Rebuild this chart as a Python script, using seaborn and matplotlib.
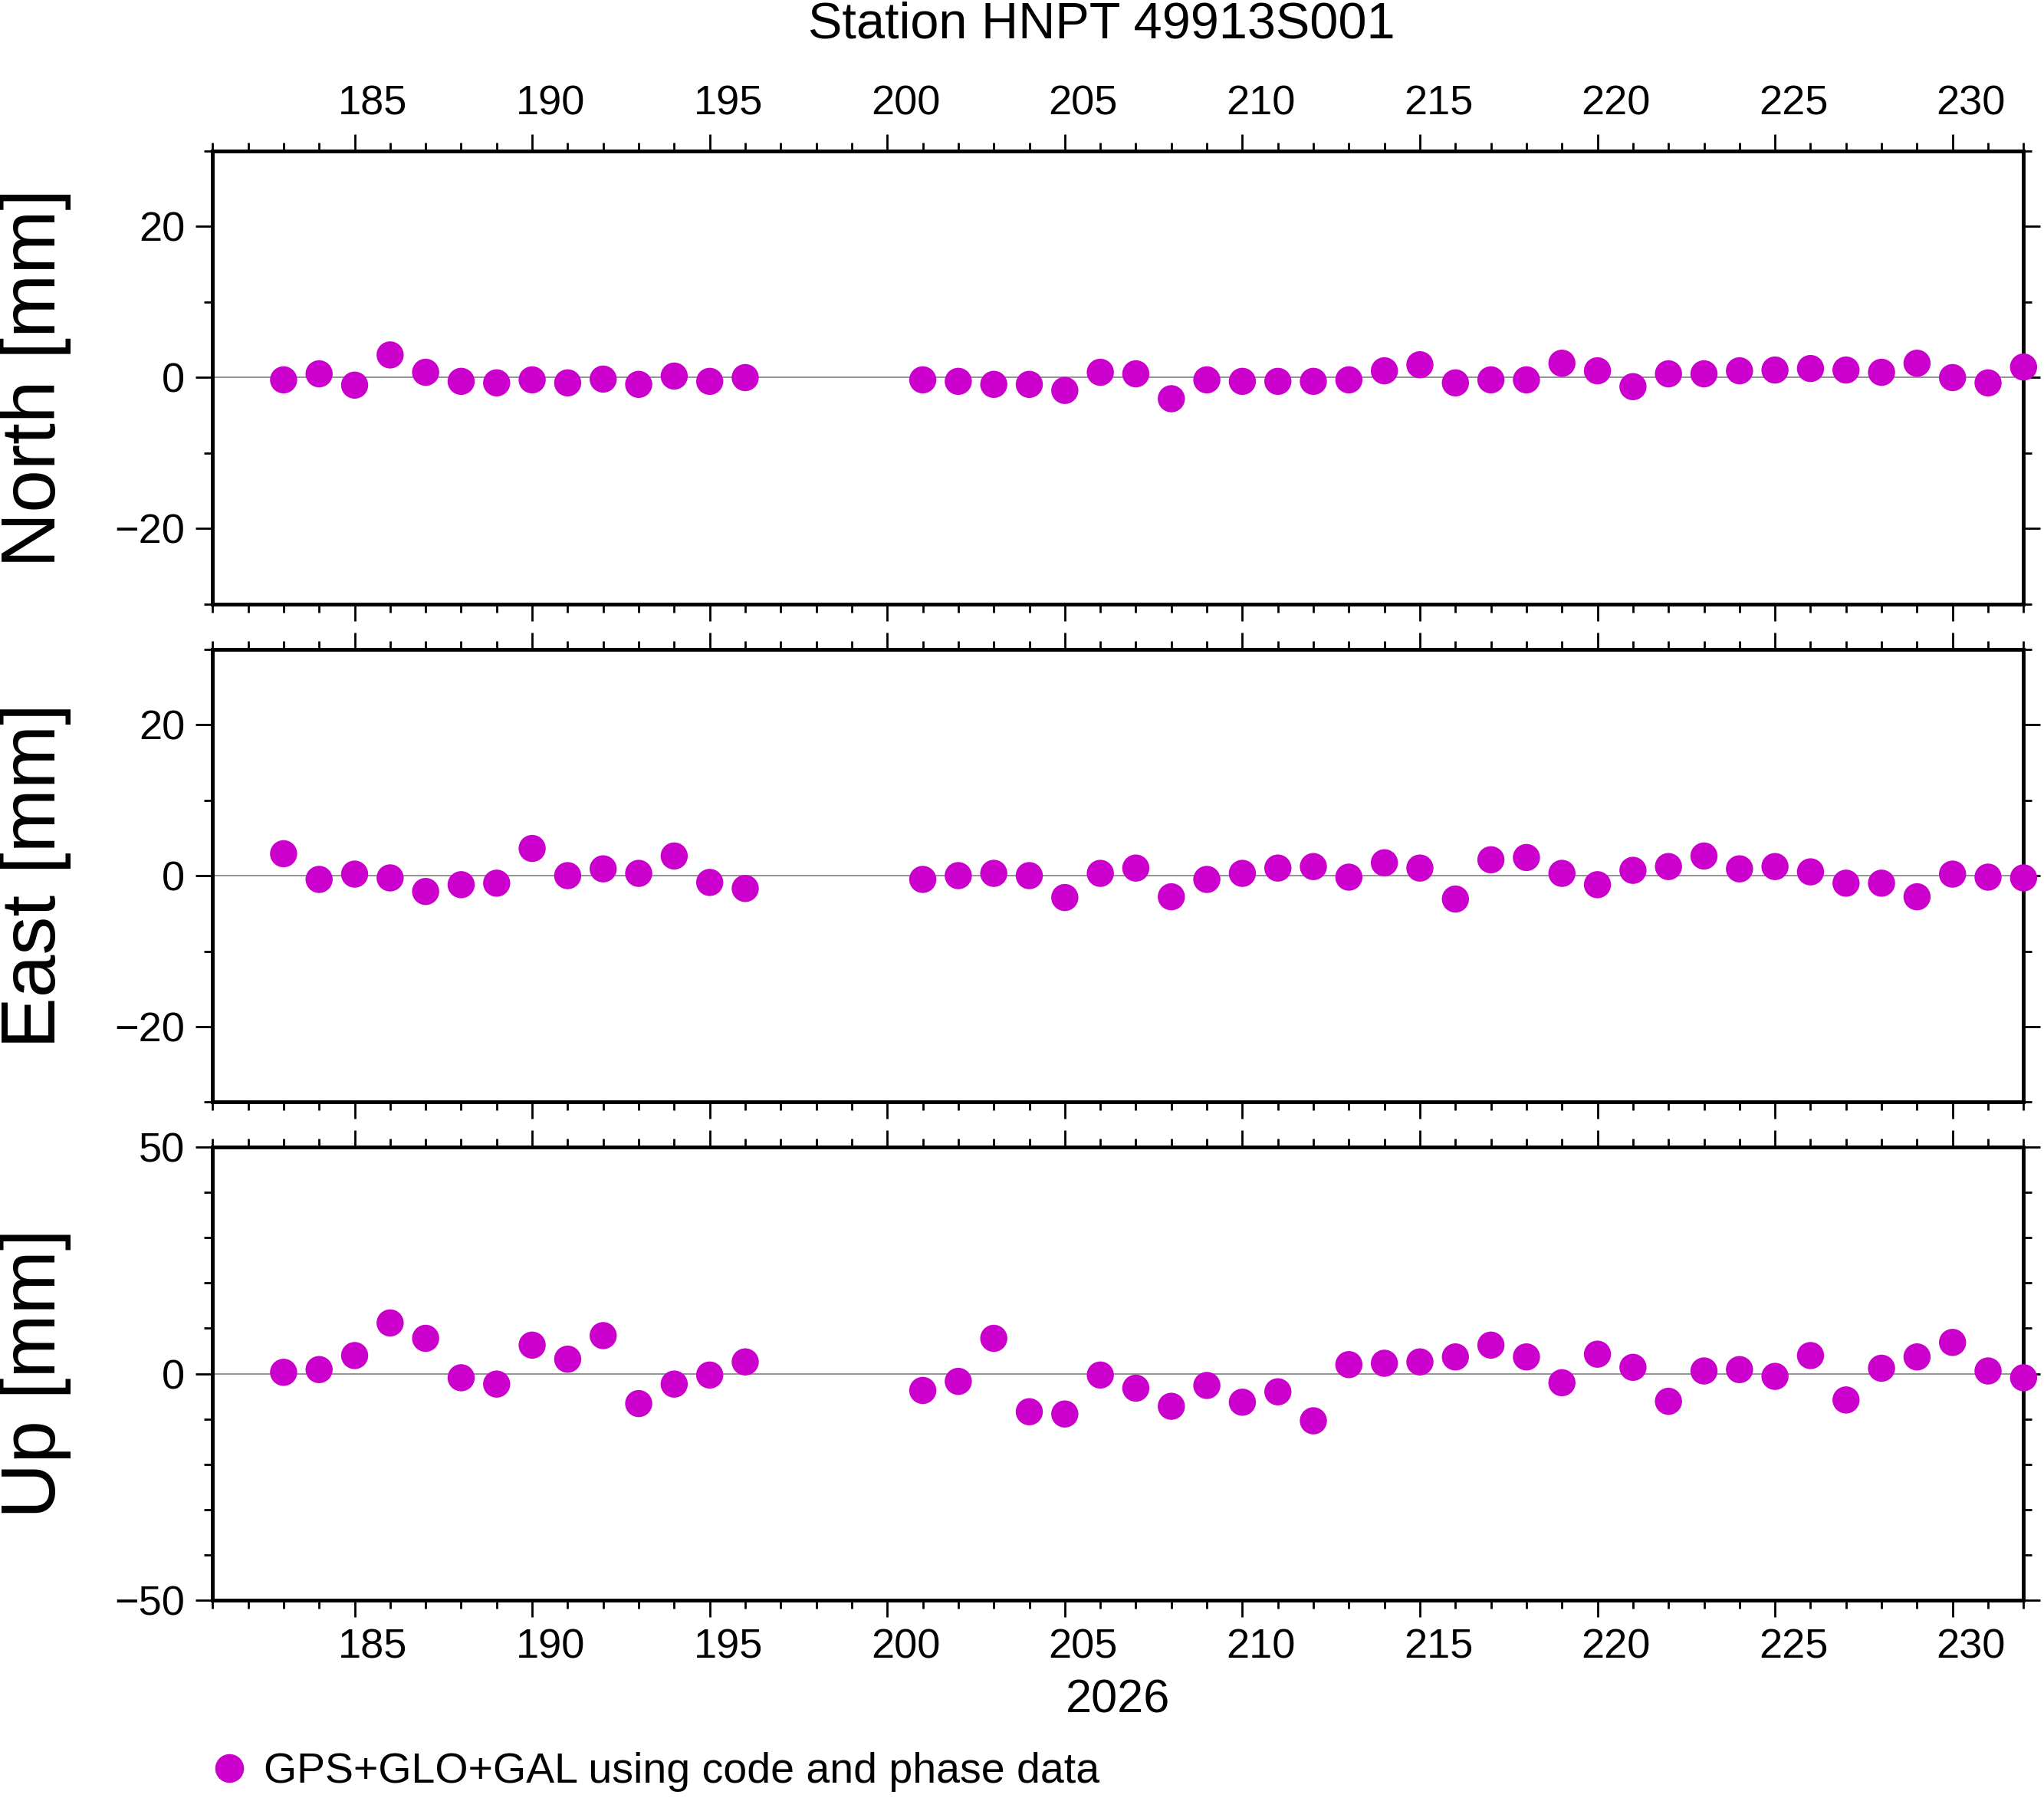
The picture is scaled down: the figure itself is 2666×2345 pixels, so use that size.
import numpy as np
import pandas as pd
import matplotlib
matplotlib.use("Agg")
import matplotlib.pyplot as plt
import seaborn as sns
from matplotlib.transforms import ScaledTranslation
from matplotlib.ticker import MultipleLocator

days = list(range(183, 197)) + list(range(201, 233))
north = [-0.3, 0.5, -1, 3, 0.7, -0.5, -0.7, -0.3, -0.7, -0.2, -0.9, 0.2, -0.5, 0,
         -0.3, -0.5, -0.9, -0.9, -1.7, 0.7, 0.5, -2.8, -0.3, -0.5, -0.5, -0.5, -0.3, 0.9, 1.7, -0.7,
         -0.3, -0.3, 1.9, 0.9, -1.2, 0.5, 0.5, 0.9, 1, 1.2, 1, 0.7, 1.9, 0, -0.7, 1.4]
east = [2.9, -0.5, 0.2, -0.3, -2.1, -1.2, -1, 3.6, 0, 0.9, 0.3, 2.6, -0.9, -1.7,
        -0.5, 0, 0.3, 0, -2.9, 0.3, 1, -2.8, -0.5, 0.3, 1, 1.2, -0.2, 1.7, 1, -3.1,
        2.1, 2.4, 0.3, -1.2, 0.7, 1.2, 2.6, 0.9, 1.2, 0.5, -1, -1, -2.8, 0.2, -0.2, -0.3]
up = [0.3, 0.9, 4, 11.2, 7.8, -0.9, -2.3, 6.3, 3.2, 8.4, -6.6, -2.3, -0.3, 2.6,
      -3.7, -1.7, 7.8, -8.4, -8.9, -0.3, -3.2, -7.2, -2.6, -6.3, -4, -10.4, 2, 2.3, 2.6, 3.7,
      6.3, 3.7, -2, 4.3, 1.4, -6.1, 0.6, 0.9, -0.6, 4, -5.8, 1.2, 3.7, 6.9, 0.6, -0.9]
panels = ["North [mm]", "East [mm]", "Up [mm]"]
limits = [(-30, 30, 20, 10), (-30, 30, 20, 10), (-50, 50, 50, 10)]
label = "GPS+GLO+GAL using code and phase data"

df = pd.DataFrame({"day": days, "North [mm]": north, "East [mm]": east, "Up [mm]": up})

sns.set_style("white")
plt.rcParams["font.family"] = ["Liberation Sans", "DejaVu Sans"]
plt.rcParams["text.color"] = "black"
plt.rcParams["axes.labelcolor"] = "black"

fig = plt.figure(figsize=(26.66, 23.45), dpi=100)
boxes = [(0.664, 0.916), (0.387, 0.639), (0.110, 0.362)]
for i, (name, (lo, hi, maj, mnr), (b, t)) in enumerate(zip(panels, limits, boxes)):
    ax = fig.add_axes([0.104, b, 0.886, t - b])
    ax.axhline(0, color="gray", lw=1.2, zorder=1)
    sns.scatterplot(data=df, x="day", y=name, ax=ax, color="#cc00cc", s=650,
                    edgecolor="none", clip_on=False, zorder=3, legend=False)
    ax.set_xlim(181, 232)
    ax.set_ylim(lo, hi)
    ax.xaxis.set_major_locator(MultipleLocator(5))
    ax.xaxis.set_minor_locator(MultipleLocator(1))
    ax.yaxis.set_major_locator(MultipleLocator(maj))
    ax.yaxis.set_minor_locator(MultipleLocator(mnr))
    for s in ax.spines.values():
        s.set_linewidth(3.5)
        s.set_color("black")
    ax.tick_params(which="both", direction="out", top=True, right=True, bottom=True, left=True,
                   width=2, colors="black", labelsize=39)
    ax.tick_params(which="major", length=16, pad=10)
    ax.tick_params(which="minor", length=8)
    ax.tick_params(axis="x", labelbottom=(i == 2), labeltop=(i == 0))
    ax.set_ylabel(name, fontsize=72)
    ax.yaxis.set_label_coords(-0.078, 0.5)
    ax.set_xlabel("2026" if i == 2 else "", fontsize=44, labelpad=12)
    ax.set_yticks([v for v in ax.get_yticks() if lo <= v <= hi])
    ax.set_yticklabels([f"{int(v)}".replace("-", "\u2212") for v in ax.get_yticks()])
    ax.set_xticks(range(185, 231, 5))
    ax.set_xticklabels([str(d) for d in range(185, 231, 5)])
    off = ScaledTranslation(0.24, 0, fig.dpi_scale_trans)
    for tl in ax.get_xticklabels(which="major"):
        tl.set_transform(tl.get_transform() + off)

fig.text(0.539, 0.986, "Station HNPT 49913S001", fontsize=48, ha="center", va="center")

handles = [plt.Line2D([], [], marker="o", ls="", color="#cc00cc", markersize=26)]
fig.legend(handles, [label], loc="lower left", bbox_to_anchor=(0.083, -0.018), frameon=False,
           fontsize=40, handletextpad=0.3, handlelength=1.0)
fig.savefig("out.png", dpi=100)
